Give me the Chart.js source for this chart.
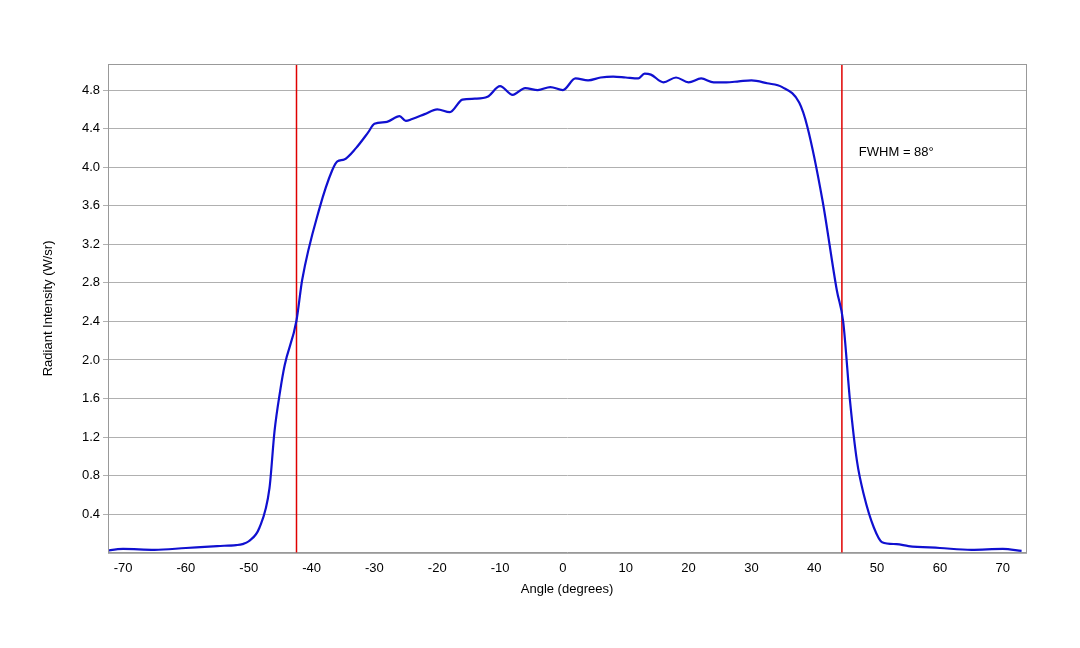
<!DOCTYPE html><html><head><script src="https://cdn.jsdelivr.net/npm/chart.js@4"></script>
<style>body{margin:0;background:#fff}#w{width:1080px;height:648px}</style></head><body><div id="w"><canvas id="c"></canvas></div>
<script>
const angles=[-73,-70,-65,-60,-55,-52,-51,-50,-48.3,-46.7,-45.9,-45,-44.3,-42.4,-41.5,-38.8,-36.7,-35.9,-34.8,-32.9,-31,-30,-28,-26,-25,-24,-22,-20,-18,-16,-14,-12,-10,-8,-6,-4,-2,0,2,4,6,8,10,12,13,14,16,18,20,22,24,26,28,30,32.5,34.9,37.6,38.9,41.3,43.6,44.6,45.7,46.8,47.9,49.5,50.8,53.1,55,60,65,70,73];
const intensity=[0.02,0.04,0.03,0.05,0.07,0.08,0.09,0.12,0.26,0.67,1.26,1.68,1.94,2.41,2.83,3.56,3.97,4.06,4.08,4.2,4.36,4.45,4.47,4.53,4.48,4.5,4.55,4.6,4.57,4.7,4.71,4.73,4.84,4.75,4.82,4.8,4.83,4.8,4.92,4.9,4.93,4.94,4.93,4.92,4.97,4.96,4.88,4.93,4.88,4.92,4.88,4.88,4.89,4.9,4.87,4.83,4.67,4.42,3.66,2.72,2.4,1.57,0.95,0.6,0.26,0.11,0.09,0.07,0.05,0.03,0.04,0.02];
const fwhmLines=[-42.4,44.4];
const yTicks=[0.4,0.8,1.2,1.6,2.0,2.4,2.8,3.2,3.6,4.0,4.4,4.8];
const xTicks=[-70,-60,-50,-40,-30,-20,-10,0,10,20,30,40,50,60,70];
const label='FWHM = 88°';
const ds=[{data:angles.map((a,i)=>({x:a,y:intensity[i]})),borderColor:'#1010d0',borderWidth:2.2,pointRadius:0,cubicInterpolationMode:'monotone'}];
fwhmLines.forEach(v=>ds.push({data:[{x:v,y:0},{x:v,y:5.08}],borderColor:'#e00000',borderWidth:1.5,pointRadius:0}));
const txt={id:'t',afterDraw(ch){const c=ch.ctx,xs=ch.scales.x,ys=ch.scales.y,a=ch.chartArea;c.save();c.strokeStyle='#999';c.lineWidth=1;c.strokeRect(a.left+0.5,a.top+0.5,a.right-a.left,a.bottom-a.top);c.font='13px "Liberation Sans",Arial';c.fillStyle='#000';c.textBaseline='middle';c.fillText(label,xs.getPixelForValue(47.1),ys.getPixelForValue(4.15));c.restore();}};
new Chart(document.getElementById('c'),{type:'line',data:{datasets:ds},plugins:[txt],options:{responsive:true,maintainAspectRatio:false,animation:false,layout:{padding:{left:37,right:54,top:64,bottom:47}},plugins:{legend:{display:false},tooltip:{enabled:false}},
scales:{x:{type:'linear',min:-72.4,max:73.7,afterBuildTicks(s){s.ticks=xTicks.map(v=>({value:v}))},ticks:{color:'#000',font:{size:13,family:'Liberation Sans'},maxRotation:0},grid:{display:false,drawOnChartArea:false,tickLength:5,color:'#999'},border:{color:'#999'},title:{display:true,text:'Angle (degrees)',color:'#000',font:{size:13,family:'Liberation Sans'},padding:{top:2}}},
y:{min:0,max:5.07,afterBuildTicks(s){s.ticks=yTicks.map(v=>({value:v}))},afterFit(s){s.width=71},ticks:{color:'#000',font:{size:13,family:'Liberation Sans'},callback:v=>v.toFixed(1)},grid:{color:'#b0b0b0',tickLength:5},border:{color:'#999'},title:{display:true,text:'Radiant Intensity (W/sr)',color:'#000',font:{size:13,family:'Liberation Sans'}}}}}});
</script></body></html>
